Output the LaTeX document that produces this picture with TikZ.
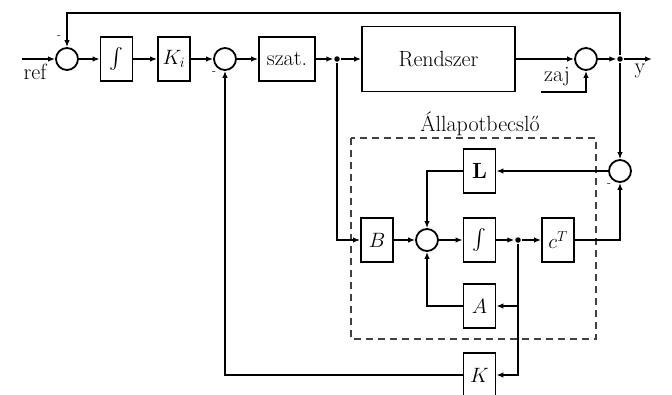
\documentclass[tikz,border=0pt]{standalone}
\usepackage{amsmath}
\usepackage{fontspec}
\usetikzlibrary{arrows.meta}
\begin{document}
\begin{tikzpicture}[x=1pt,y=-1pt,
  line width=1.7pt,
  font=\fontsize{22}{26}\selectfont,
  blk/.style={draw, line width=1.8pt, minimum width=32pt, minimum height=44pt, inner sep=0pt},
  sum/.style={draw, circle, line width=1.8pt, minimum size=22pt, inner sep=0pt},
  jdot/.style={circle, fill, inner sep=0pt, minimum size=5.5pt},
  arr/.style={-{Latex[length=7pt,width=5.5pt]}},
  sgn/.style={font=\fontsize{12}{14}\selectfont, inner sep=0pt}]
\path[use as bounding box, clip] (0,0) rectangle (672,394);
% main row
\coordinate (refin) at (22,59);
\node (ref) at (35,72) {ref};
\node[sum] (s1) at (67,59) {};
\node[blk] (i1) at (116.5,59) {$\int$};
\node[blk] (ki) at (174,59) {$K_i$};
\node[sum] (s2) at (225,59) {};
\node[blk, minimum width=56pt] (sz) at (287,59) {szat.};
\node[jdot] (d1) at (337,59) {};
\node[blk, minimum width=153pt, minimum height=65pt] (rs) at (438.5,59) {Rendszer};
\node[sum] (s3) at (586,59) {};
\node[jdot] (d2) at (620,59) {};
\coordinate (yout) at (652,59);
\node (ylab) at (640,71) {y};
\node (zaj) at (557,77) {zaj};
\coordinate (zc) at (541,92);
\coordinate (topl) at (67,13);
\node[sgn] (m1) at (59,37) {-};
\node[sgn] (m2) at (214,73) {-};
% estimator
\draw[dashed, dash pattern=on 7pt off 5pt, line width=1.7pt, black!75] (351,138) rectangle (596,339);
\node (est) at (480,124) {Állapotbecslő};
\node[sum] (s4) at (620,171) {};
\node[sgn] (m4) at (609,185) {-};
\node[blk] (L) at (479.5,171) {\textbf{L}};
\node[blk] (B) at (377,240) {$B$};
\node[sum] (s5) at (427,240) {};
\node[blk] (i2) at (479.5,240) {$\int$};
\node[jdot] (d3) at (518,240) {};
\node[blk] (cT) at (558,240) {$c^T$};
\node[blk] (A) at (479.5,306) {$A$};
\node[blk] (K) at (479.5,375) {$K$};
% connectors main row
\draw[arr] (refin) -- (s1);
\draw[arr] (s1) -- (i1);
\draw[arr] (i1) -- (ki);
\draw[arr] (ki) -- (s2);
\draw[arr] (s2) -- (sz);
\draw[arr] (sz) -- (d1);
\draw[arr] (d1) -- (rs);
\draw[arr] (rs) -- (s3);
\draw[arr] (s3) -- (d2);
\draw[arr] (d2) -- (yout);
\draw[arr] (zc) -| (s3.south);
\draw[arr] (d2) |- (topl) -- (s1.north);
\draw[arr] (d2) -- (s4.north);
% estimator connectors
\draw[arr] (d1) |- (B.west);
\draw[arr] (B) -- (s5);
\draw[arr] (s5) -- (i2);
\draw[arr] (i2) -- (d3);
\draw[arr] (d3) -- (cT);
\draw[arr] (cT) -| (s4.south);
\draw[arr] (s4) -- (L);
\draw[arr] (L) -| (s5.north);
\draw[arr] (d3) |- (A.east);
\draw[arr] (d3) |- (K.east);
\draw[arr] (A) -| (s5.south);
\draw[arr] (K) -| (s2.south);
\end{tikzpicture}
\end{document}
